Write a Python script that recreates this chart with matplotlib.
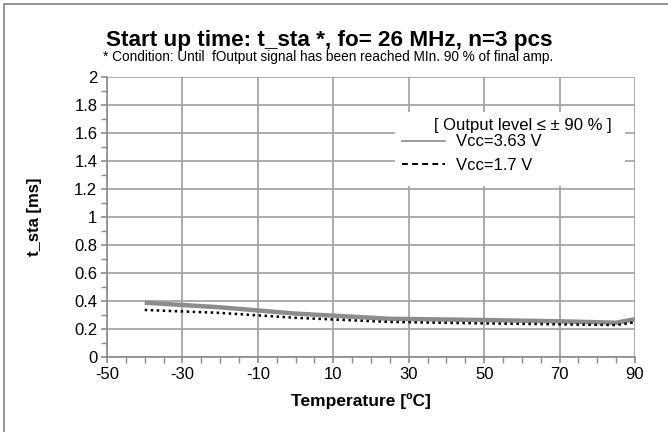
from matplotlib import pyplot as plt
from matplotlib.patches import Rectangle
from matplotlib.ticker import MultipleLocator

plt.rcParams['font.family'] = ['Liberation Sans', 'DejaVu Sans']

temps = [-40, -20, 0, 25, 50, 70, 85, 90]
t_sta_363 = [0.388, 0.355, 0.31, 0.273, 0.264, 0.255, 0.245, 0.27]
t_sta_17 = [0.336, 0.315, 0.28, 0.25, 0.24, 0.233, 0.228, 0.248]
labels = ['Vcc=3.63 V', 'Vcc=1.7 V']
y_ticks = [0, 0.2, 0.4, 0.6, 0.8, 1, 1.2, 1.4, 1.6, 1.8, 2]
y_tick_labels = ['0', '0.2', '0.4', '0.6', '0.8', '1', '1.2', '1.4', '1.6', '1.8', '2']
x_ticks = [-50, -30, -10, 10, 30, 50, 70, 90]

fig = plt.figure(figsize=(6.68, 4.32), dpi=100)
ax = fig.add_axes([107 / 668, 75 / 432, 528 / 668, 280 / 432])

# outer chart frame, cut off on the right and bottom
fig.patches.append(Rectangle((4 / 668, -0.1), 1.2, 1.1 - 4 / 432, transform=fig.transFigure,
                             fill=False, edgecolor='#8c8c8c', linewidth=1.3))

ax.plot(temps, t_sta_363, color='#8c8c8c', linewidth=3.2, solid_capstyle='butt', label=labels[0], zorder=3)
ax.plot(temps, t_sta_17, color='black', linewidth=1.8, linestyle=(0, (1, 1.4)),
        dash_capstyle='butt', label=labels[1], zorder=4)

ax.set_xlim(-50, 90)
ax.set_ylim(0, 2)
ax.set_xticks(x_ticks)
ax.set_xticklabels([str(v) for v in x_ticks])
ax.xaxis.set_minor_locator(MultipleLocator(5))
ax.set_yticks(y_ticks)
ax.set_yticklabels(y_tick_labels)
ax.yaxis.set_minor_locator(MultipleLocator(0.1))
ax.grid(True, which='major', color='#a0a0a0', linewidth=1.2)
ax.set_axisbelow(True)
ax.tick_params(which='both', direction='out', color='#8c8c8c', labelsize=12)
ax.tick_params(which='major', length=4, width=1.2, pad=3)
ax.tick_params(which='minor', length=4, width=1.0)
for side in ['top', 'right']:
    ax.spines[side].set_visible(False)
for side in ['left', 'bottom']:
    ax.spines[side].set_color('#8c8c8c')
    ax.spines[side].set_linewidth(1.2)

ax.set_xlabel('Temperature [ºC]', fontsize=12.5, fontweight='bold')
ax.set_ylabel('t_sta [ms]', fontsize=12, fontweight='bold')
ax.xaxis.set_label_coords(0.481, -0.129)
ax.yaxis.set_label_coords(-0.123, 0.5)

fig.text(0.4925, 1 - 46 / 432, 'Start up time: t_sta *, fo= 26 MHz, n=3 pcs', ha='center', va='baseline',
         fontsize=16.2, fontweight='bold')
fig.text(0.491, 1 - 61 / 432, '* Condition: Until  fOutput signal has been reached MIn. 90 % of final amp.',
         ha='center', va='baseline', fontsize=9.8)

# white box behind the legend hides the grid
ax.add_patch(Rectangle((0.545, 0.611), 0.436, 0.264, transform=ax.transAxes,
                       facecolor='white', edgecolor='none', zorder=1))
ax.text(0.788, 0.827, '[ Output level ≤ ± 90 % ]', transform=ax.transAxes, ha='center', va='center',
        fontsize=12, zorder=5)
leg_handles = [plt.Line2D([], [], color='#8c8c8c', linewidth=1.2),
               plt.Line2D([], [], color='black', linewidth=1.4, linestyle=(0, (3, 2.2)))]
leg = ax.legend(leg_handles, labels, loc='upper left', bbox_to_anchor=(0.559, 0.795),
                frameon=False, fontsize=12, handlelength=2.6, borderpad=0, borderaxespad=0,
                labelspacing=0.5, handletextpad=0.65)
leg.set_zorder(5)

fig.savefig('out.png', dpi=100)
